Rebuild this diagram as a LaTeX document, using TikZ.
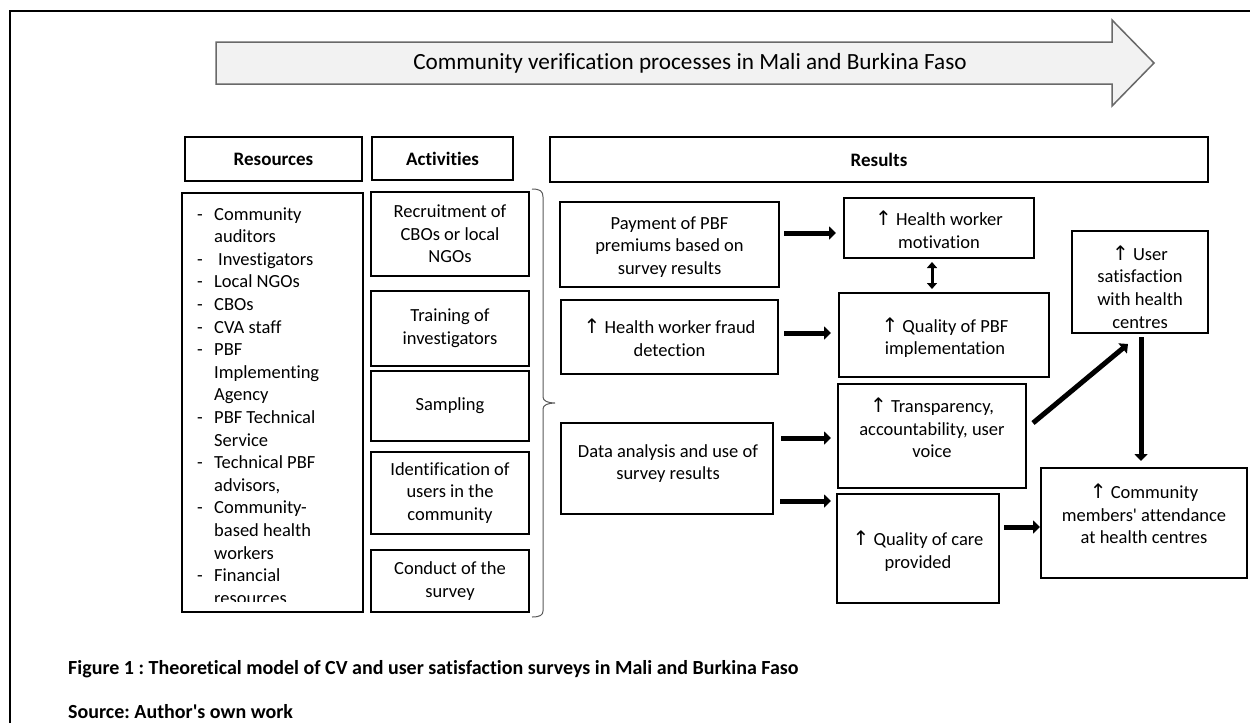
\documentclass[tikz,border=0pt]{standalone}
\usepackage{fontspec}
\setmainfont{Carlito}[Ligatures={TeXOff,CommonOff}]
\newfontfamily\arrowfont{DejaVu Sans}
\usetikzlibrary{arrows.meta,calc}
\definecolor{arrfill}{RGB}{242,242,242}
\definecolor{arrline}{RGB}{105,105,105}
\definecolor{bracecol}{RGB}{90,90,90}
\newcommand{\upar}{{\arrowfont\fontsize{20}{20}\selectfont ↑}}
\frenchspacing
\begin{document}
\begin{tikzpicture}[x=1pt,y=-1pt,
  box/.style={draw=black,line width=2pt,inner sep=0pt},
  txt/.style={inner sep=0pt,align=center,font=\fontsize{18.5}{22.6}\selectfont},
  actbox/.style={box,align=center,font=\fontsize{18.5}{22.6}\selectfont,minimum width=158pt},
  head/.style={box,font=\bfseries\fontsize{19}{23}\selectfont},
  fat/.style={line width=5pt,-{Triangle[length=7pt,width=13pt]}},
  dbl/.style={line width=3pt,{Triangle[length=6pt,width=10pt]}-{Triangle[length=6pt,width=10pt]}}]
\useasboundingbox (0,0) rectangle (1250,723);
\fill[white] (0,0) rectangle (1250,723);
% outer frame (left and top edges)
\draw[line width=2pt] (10,723) -- (10,11) -- (1250,11);
% process arrow
\draw[fill=arrfill,draw=arrline,line width=1.5pt,line join=miter]
  (216,42) -- (1112,42) -- (1112,20) -- (1154,63) -- (1112,106) -- (1112,84) -- (216,84) -- cycle;
\node[txt,font=\fontsize{23.2}{27}\selectfont] (title) at (690,63) {Community verification processes in Mali and Burkina Faso};
% headers
\node[head,minimum width=177pt,minimum height=44pt] (hres) at (273.5,159) {Resources};
\node[head,minimum width=141pt,minimum height=43pt] (hact) at (442.5,158.5) {Activities};
\node[head,minimum width=658pt,minimum height=45pt] (hresu) at (879,159.5) {Results};
% resources list
\node[box,minimum width=181pt,minimum height=419pt] (rlist) at (272.5,402.5) {};
\begin{scope}
\clip (183,194) rectangle (362,601.5);
\node[anchor=base west,inner sep=0pt,font=\fontsize{18.5}{22.6}\selectfont] (rtext) at (197,220) {\parbox[t]{160pt}{\raggedright
\makebox[17pt][l]{-}Community\\
\hspace*{17pt}auditors\\
\makebox[17pt][l]{-}\hspace*{4pt}Investigators\\
\makebox[17pt][l]{-}Local NGOs\\
\makebox[17pt][l]{-}CBOs\\
\makebox[17pt][l]{-}CVA staff\\
\makebox[17pt][l]{-}PBF\\
\hspace*{17pt}Implementing\\
\hspace*{17pt}Agency\\
\makebox[17pt][l]{-}PBF Technical\\
\hspace*{17pt}Service\\
\makebox[17pt][l]{-}Technical PBF\\
\hspace*{17pt}advisors,\\
\makebox[17pt][l]{-}Community-\\
\hspace*{17pt}based health\\
\hspace*{17pt}workers\\
\makebox[17pt][l]{-}Financial\\
\hspace*{17pt}resources}};
\end{scope}
% activities
\node[actbox,minimum height=84pt] (a1) at (450,234) {Recruitment of\\CBOs or local\\NGOs};
\node[actbox,minimum height=75pt] (a2) at (450,328.5) {Training of\\investigators};
\node[actbox,minimum height=70pt] (a3) at (450,406) {Sampling};
\node[actbox,minimum height=82pt] (a4) at (450,493) {Identification of\\users in the\\community};
\node[actbox,minimum height=62pt] (a5) at (450,581) {Conduct of the\\survey};
% brace
\draw[line width=1pt,draw=bracecol] (532,189) .. controls (540,189) and (543,191) .. (543,197) -- (543,397)
  .. controls (543,401) and (548,403) .. (555,403) .. controls (548,403) and (543,405) .. (543,409)
  -- (543,611) .. controls (543,615) and (540,617) .. (532,617);
% results boxes
\node[box,minimum width=219pt,minimum height=85pt] (pay) at (669.5,244.5) {};
\node[txt] (payt) at (669.5,247) {Payment of PBF\\premiums based on\\survey results};
\node[box,minimum width=217pt,minimum height=74pt] (fraud) at (669.5,337) {};
\node[txt] (fraudt) at (669.5,338) {\upar\ Health worker fraud\\detection};
\node[box,minimum width=212pt,minimum height=91pt] (data) at (667,468.5) {};
\node[txt] (datat) at (668,463.5) {Data analysis and use of\\survey results};
\node[box,minimum width=190pt,minimum height=60pt] (mot) at (939,228) {};
\node[txt] (mott) at (939,230) {\upar\ Health worker\\motivation};
\node[box,minimum width=210pt,minimum height=84pt] (qpbf) at (944,335) {};
\node[txt] (qpbft) at (945,337.5) {\upar\ Quality of PBF\\implementation};
\node[box,minimum width=188pt,minimum height=104pt] (transp) at (932,436) {};
\node[txt] (transpt) at (932,428) {\upar\ Transparency,\\accountability, user\\voice};
\node[box,minimum width=162pt,minimum height=109pt] (qcare) at (918,548.5) {};
\node[txt] (qcaret) at (918,551) {\upar\ Quality of care\\provided};
\node[box,minimum width=136pt,minimum height=102pt] (usat) at (1140,282) {};
\node[txt] (usatt) at (1140,287) {\upar\ User\\satisfaction\\with health\\centres};
\node[box,minimum width=206pt,minimum height=110pt] (comm) at (1144,523) {};
\node[txt] (commt) at (1144,514) {\upar\ Community\\members' attendance\\at health centres};
% connectors
\draw[fat] ($(pay.east)+(4,-11.5)$) -- ($(mot.west)+(-7,5)$);
\draw[fat] ($(fraud.east)+(5,-4)$) -- ($(qpbf.west)+(-7,-2)$);
\draw[fat] ($(data.east)+(7,-30.5)$) -- ($(transp.west)+(-6,2)$);
\draw[fat] ($(data.east)+(6,32.5)$) -- ($(qcare.west)+(-5,-47.5)$);
\draw[fat] ($(qcare.east)+(4,-21.5)$) -- ($(comm.west)+(0,4)$);
\draw[dbl] ($(mot.south)+(-7,3)$) -- ($(qpbf.north)+(-12,-3)$);
\draw[fat] ($(transp.east)+(6,-13)$) -- ($(usat.south west)+(57,10)$);
\draw[fat] ($(usat.south)+(1,3)$) -- ($(comm.north)+(-3,-6)$);
% caption
\node[anchor=base west,inner sep=0pt,font=\bfseries\fontsize{20}{24}\selectfont] (cap) at (68,674.5) {Figure 1 : Theoretical model of CV and user satisfaction surveys in Mali and Burkina Faso};
\node[anchor=base west,inner sep=0pt,font=\bfseries\fontsize{20}{24}\selectfont] (src) at (68,718) {Source: Author's own work};
\end{tikzpicture}
\end{document}
